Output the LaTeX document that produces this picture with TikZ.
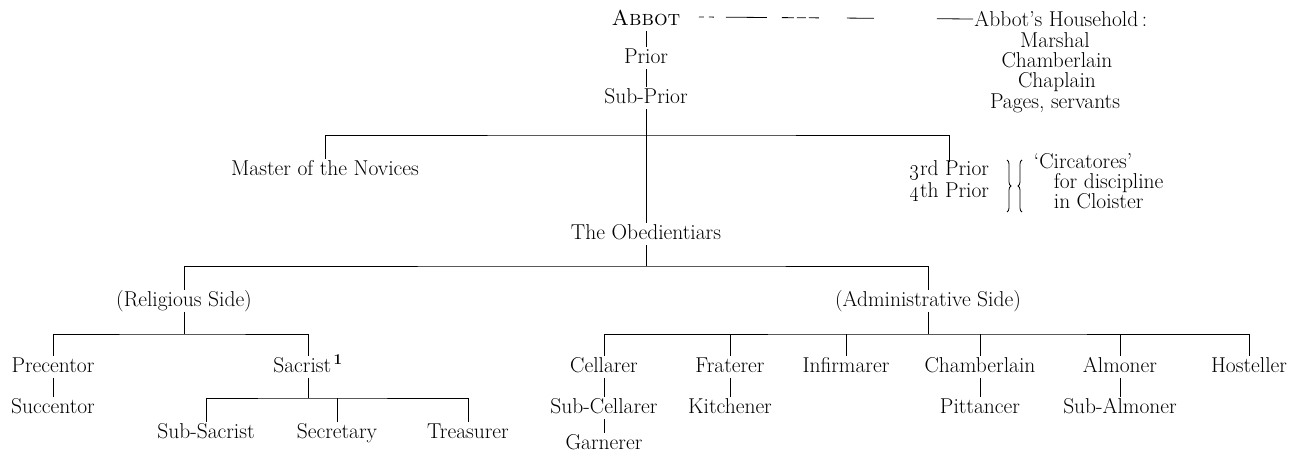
\RequirePackage{fix-cm}
\documentclass[tikz,border=0pt]{standalone}
\usetikzlibrary{decorations.pathreplacing}
\begin{document}
\begin{tikzpicture}[x=1pt,y=-1pt,line width=0.8pt,
  every node/.style={font=\fontsize{21.5}{24}\selectfont,inner sep=1pt,text height=15pt,text depth=4.5pt},
  lab/.style={anchor=base},
  labw/.style={anchor=base west},
  tight/.style={text height=12pt,text depth=2.5pt,inner sep=0.5pt},
  abdash/.style={dash pattern=on 5pt off 5pt on 5pt off 12pt on 41pt off 15pt on 12pt off 3pt on 9pt off 3pt on 10pt off 28pt on 27pt off 63pt on 39pt},
  bracer/.style={decorate,decoration={brace,amplitude=4pt}}]
\useasboundingbox (0,0) rectangle (1299,463);
% top
\node[lab] (abbot) at (646,25) {\textsc{Abbot}};
\node[lab] (prior) at (646,63) {Prior};
\node[lab] (subprior) at (646,103) {Sub-Prior};
\node[labw] (hh) at (973,27) {Abbot's Household\,:};
\node[lab,tight] (marshal) at (1055,47) {Marshal};
\node[lab,tight] (hchamb) at (1057,67) {Chamberlain};
\node[lab,tight] (chaplain) at (1057,87) {Chaplain};
\node[lab,tight] (pages) at (1055,108) {Pages, servants};
% second level
\node[lab] (master) at (325,175) {Master of the Novices};
\node[labw,tight] (third) at (909,175) {\oldstylenums{3}rd Prior};
\node[labw,tight] (fourth) at (909,197) {\oldstylenums{4}th Prior};
\node[labw,tight] (circ) at (1033,168) {`Circatores'};
\node[labw,tight] (disc) at (1053,188) {for discipline};
\node[labw,tight] (cloister) at (1053,208) {in Cloister};
\node[lab] (obed) at (646,239) {The Obedientiars};
% sides
\node[lab] (rel) at (184,306) {(Religious Side)};
\node[lab] (adm) at (928,306) {(Administrative Side)};
% row 1
\node[lab] (precentor) at (53,372) {Precentor};
\node[lab] (sacrist) at (308,372) {Sacrist\textsuperscript{\,\textbf{1}}};
\node[lab] (cellarer) at (604,372) {Cellarer};
\node[lab] (fraterer) at (730,372) {Fraterer};
\node[lab] (infirm) at (846,372) {Infirmarer};
\node[lab] (chamb) at (980,372) {Chamberlain};
\node[lab] (almoner) at (1120,372) {Almoner};
\node[lab] (hosteller) at (1249,372) {Hosteller};
% row 2
\node[lab] (succentor) at (53,413) {Succentor};
\node[lab] (subcell) at (604,413) {Sub-Cellarer};
\node[lab] (kitchener) at (730,413) {Kitchener};
\node[lab] (pittancer) at (980,413) {Pittancer};
\node[lab] (subalm) at (1120,413) {Sub-Almoner};
% row 3
\node[lab] (subsac) at (206,438) {Sub-Sacrist};
\node[lab] (secretary) at (337,438) {Secretary};
\node[lab] (treasurer) at (468,438) {Treasurer};
\node[lab] (garnerer) at (604,449) {Garnerer};
% connectors
\coordinate (dy1) at (0,17);
\coordinate (dy2) at (0,19);
\draw[abdash] ([xshift=17pt]abbot.east |- dy1) -- (hh.west |- dy2);
\draw (abbot.south) -- (prior.north);
\draw (prior.south) -- (subprior.north);
\coordinate (j0) at (646,135);
\draw (subprior.south) -- (j0);
\draw (master.north) |- (j0) -| (third.north);
\draw (j0) -- (obed.north);
\coordinate (j1) at (646,266);
\draw (obed.south) -- (j1);
\draw (rel.north) |- (j1) -| (adm.north);
\coordinate (j2) at (184,334);
\draw (rel.south) -- (j2);
\draw (precentor.north) |- (j2) -| (sacrist.north);
\draw (precentor.south) -- (succentor.north);
\coordinate (j3) at (308,398);
\draw (sacrist.south) -- (j3);
\draw (subsac.north) |- (j3) -| (treasurer.north);
\draw (secretary.north) -- (secretary.north |- j3);
\coordinate (j4) at (928,334);
\draw (adm.south) -- (j4);
\draw (cellarer.north) |- (j4) -| (hosteller.north);
\draw (fraterer.north) -- (fraterer.north |- j4);
\draw (infirm.north) -- (infirm.north |- j4);
\draw (chamb.north) -- (chamb.north |- j4);
\draw (almoner.north) -- (almoner.north |- j4);
\draw (cellarer.south) -- (subcell.north);
\draw (subcell.south) -- (garnerer.north);
\draw (fraterer.south) -- (kitchener.north);
\draw (chamb.south) -- (pittancer.north);
\draw (almoner.south) -- (subalm.north);
% braces
\draw[bracer] (1007,160) -- (1007,212);
\draw[bracer] (1022,212) -- (1022,160);
\end{tikzpicture}
\end{document}
